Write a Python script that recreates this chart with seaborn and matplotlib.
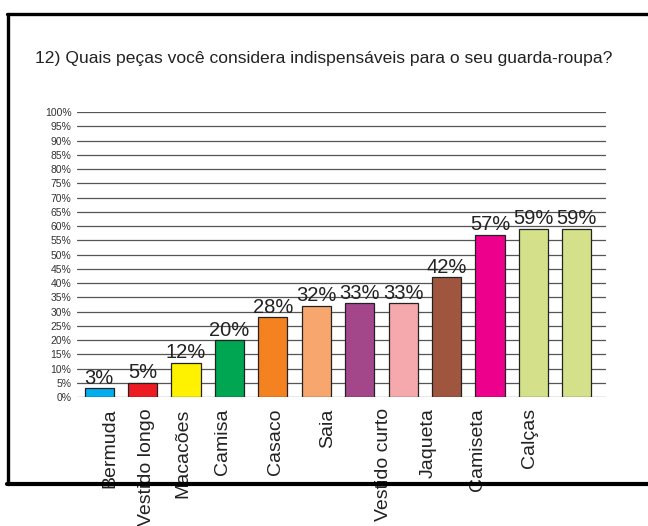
import numpy as np
import matplotlib
matplotlib.use('Agg')
import matplotlib.pyplot as plt
import seaborn as sns
from matplotlib.lines import Line2D

sns.set_style('white')
plt.rcParams['font.family'] = ['Liberation Sans', 'DejaVu Sans']

# data (12 bars, only 10 names printed under them)
bar_ids = ['b1', 'b2', 'b3', 'b4', 'b5', 'b6', 'b7', 'b8', 'b9', 'b10', 'b11', 'b12']
values = [3, 5, 12, 20, 28, 32, 33, 33, 42, 57, 59, 59]
bar_colors = ['#00AEEF', '#ED1C24', '#FFF200', '#00A651', '#F58220', '#F7A66E',
              '#A3478A', '#F5A9AC', '#A0553F', '#EC008C', '#D4E18A', '#D4E18A']
names = ['Bermuda', 'Vestido longo', 'Macacões', 'Camisa', 'Casaco', 'Saia',
         'Vestido curto', 'Jaqueta', 'Camiseta', 'Calças']
name_pos = [0.25, 1.10, 1.93, 2.85, 4.05, 5.27, 6.54, 7.57, 8.70, 9.92]
yticks = list(range(0, 101, 5))

fig = plt.figure(figsize=(6.48, 5.26), dpi=100)
ax = fig.add_axes([0.119, 0.2452, 0.816, 0.5418])

sns.barplot(x=bar_ids, y=values, hue=bar_ids, palette=bar_colors, legend=False,
            saturation=1, width=0.67, edgecolor='#222222', linewidth=0.9, ax=ax, zorder=3)

for i, v in enumerate(values):
    ax.annotate(f'{v}%', (i, v), xytext=(0, 0.3), textcoords='offset points',
                ha='center', va='bottom', fontsize=14.5, color='#222222', zorder=4)

ax.set_ylim(0, 100)
ax.set_xlim(-0.506, 11.667)
ax.set_yticks(yticks)
ax.set_yticklabels([f'{t}%' for t in yticks], fontsize=7.5, color='#333333')
ax.set_xticks(name_pos)
ax.set_xticklabels(names, rotation=90, fontsize=14, color='#222222', va='top')
ax.tick_params(axis='both', length=0, pad=4)
ax.tick_params(axis='x', pad=8)
ax.set_xlabel('')
ax.set_ylabel('')
for t in yticks:
    ax.axhline(t, color='#555555', lw=0.9, zorder=1)
for s in ax.spines.values():
    s.set_visible(False)

fig.text(0.054, 0.888, '12) Quais peças você considera indispensáveis para o seu guarda-roupa?',
         fontsize=12.6, color='#222222', ha='left', va='center')

# the black frame around the chart
fig.add_artist(Line2D([0.011, 1.0], [0.974, 0.974], color='black', lw=2.4, zorder=10))
fig.add_artist(Line2D([0.013, 0.013], [0.974, 0.079], color='black', lw=2.4, zorder=10))
fig.add_artist(Line2D([0.011, 1.0], [0.080, 0.080], color='black', lw=3.0, zorder=10))

fig.savefig('out.png', dpi=100)
